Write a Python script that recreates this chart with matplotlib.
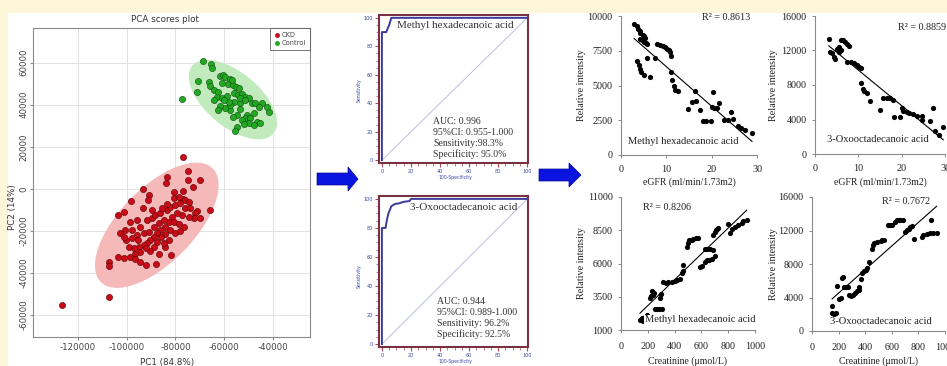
import numpy as np
import matplotlib
matplotlib.use('Agg')
import matplotlib.pyplot as plt
from matplotlib.patches import Polygon, Rectangle
from matplotlib.lines import Line2D
from matplotlib.ticker import MultipleLocator

W, H = 947, 366

# --- PCA scores ---
ckd_pc1 = [-76900, -75000, -74900, -70100, -83500, -83800, -72800, -80800, -77100, -93300,
           -90700, -91300, -98300, -93500, -101300, -103700, -65700, -69800, -76900, -71200,
           -95800, -98500, -100600, -97800, -94400, -91700, -89600, -88300, -86200, -83500,
           -82100, -80100, -78000, -76000, -73900, -71900, -72500, -74600, -77300, -79400,
           -81400, -82800, -84200, -86200, -87600, -89000, -90300, -91700, -93100, -95100,
           -97200, -99200, -100200, -97800, -95800, -93100, -91000, -89000, -86900, -84900,
           -80800, -78700, -76700, -78000, -80100, -82100, -84200, -85900, -87600, -88700,
           -90300, -92000, -94400, -96500, -98800, -101000, -103700, -96500, -94400, -92100,
           -87900, -86900, -81800, -84400, -107400, -107400, -107400, -126400, -102600, -101300,
           -95500, -80800, -78700, -76000, -83500, -85600, -89600, -74600, -82800, -84800]
ckd_pc2 = [15300, 8500, 4200, 4200, 5500, 2900, 700, -1300, -900, -200,
           -2900, -5300, -5800, -9300, -11000, -12400, -10100, -14000, -5000, -10400,
           -14800, -15600, -19600, -19600, -18000, -14800, -14000, -12400, -11600, -10100,
           -8500, -7700, -6900, -9300, -9300, -11600, -14000, -13200, -12400, -11600,
           -13200, -15600, -18000, -19600, -21200, -23100, -24300, -25600, -26700, -27500,
           -28300, -27500, -24300, -23500, -21900, -21200, -20400, -18000, -16400, -14800,
           -15600, -16700, -18300, -19900, -20800, -19600, -21500, -23100, -25100, -27500,
           -29400, -28300, -30200, -31000, -32200, -33000, -32600, -33500, -34600, -36200,
           -35700, -31000, -31500, -27800, -34600, -36500, -51300, -55200, -21200, -23100,
           -24300, -4500, -3700, -5300, -7200, -9300, -10100, -6100, -24300, -25600]
ctl_pc1 = [-68900, -65400, -65200, -70900, -66400, -66000, -61600, -60500, -59600, -57500,
           -60900, -58600, -56500, -55000, -53800, -64300, -62700, -71200, -63000, -60900,
           -58900, -56100, -54500, -52700, -51400, -50000, -48600, -47200, -44500, -42500,
           -41800, -45900, -47900, -50700, -51400, -52700, -54800, -56400, -57500, -59600,
           -61600, -62700, -56100, -53400, -53700, -49300, -46600, -45200, -50000, -52000,
           -54800, -55500, -77300, -57500, -64300, -47900, -53400, -51400, -58200, -60200,
           -56800]
ctl_pc2 = [60800, 59200, 57300, 51300, 51000, 48900, 53700, 54100, 53000, 52200,
           50200, 49900, 49400, 48600, 47800, 47000, 46200, 46200, 43800, 43000,
           44100, 45400, 44600, 45100, 43800, 43000, 40700, 41000, 41000, 39100,
           36700, 38800, 35900, 35100, 33500, 32700, 35100, 34300, 37500, 38300,
           39400, 37500, 41500, 40700, 37800, 33500, 31900, 31200, 31200, 30800,
           29600, 27700, 42700, 39900, 42200, 30400, 43000, 42200, 41500, 42200,
           51800]

# --- ROC curves ---
roc1_fpr = [0, 0, 3, 5, 6.5, 100]
roc1_tpr = [0, 90, 90, 95, 100, 100]
roc2_fpr = [0, 0, 2.5, 3.5, 4.5, 6.5, 9, 12, 15, 19, 20, 100]
roc2_tpr = [0, 80, 80, 86, 90, 95, 96.5, 97, 98, 98.5, 100, 100]
roc1_stats = ['AUC: 0.996', '95%CI: 0.955-1.000', 'Sensitivity:98.3%', 'Specificity: 95.0%']
roc2_stats = ['AUC: 0.944', '95%CI: 0.989-1.000', 'Sensitivity: 96.2%', 'Specificity: 92.5%']

# --- correlation scatter data ---
egfr1 = [2.9, 3.5, 3.8, 4.2, 4.3, 4.8, 5.1, 5.4, 4.1, 4.6, 5.1, 5.5, 5.8, 3.6, 3.9, 4.2, 4.4, 5.1,
         6.4, 7.4, 5.7, 8.0, 8.6, 9.2, 9.7, 10.1, 10.5, 10.8, 11.1, 11.0, 11.2, 11.6, 11.9, 12.5,
         16.4, 14.7, 15.6, 16.6, 17.5, 18.1, 18.8, 19.9, 20.3, 20.0, 20.6, 21.1, 21.7, 22.8, 23.5,
         24.2, 24.7, 25.9, 26.5, 27.4, 28.9]
mha_egfr = [9450, 9260, 9090, 8920, 8780, 8640, 8540, 8440, 8370, 8250, 8130, 8060, 8010, 6750,
            6460, 6220, 5980, 5740, 5620, 7010, 7010, 7970, 7940, 7870, 7770, 7650, 7530, 7390,
            7150, 5980, 5380, 4950, 4660, 4620, 4620, 3280, 3830, 3900, 3230, 2460, 2460, 2460,
            4540, 3420, 3350, 3350, 3710, 2510, 2510, 3110, 2560, 2080, 1910, 1790, 1600]
egfr2 = [3.2, 3.4, 4.0, 4.4, 4.7, 5.1, 5.5, 5.9, 5.5, 6.0, 6.5, 7.0, 7.4, 7.8, 7.4, 8.2, 8.9, 9.6,
         10.1, 10.5, 10.7, 11.0, 11.4, 12.0, 12.6, 15.1, 15.8, 16.6, 17.4, 18.0, 18.3, 19.7, 20.0,
         20.4, 21.2, 21.8, 22.6, 23.5, 24.6, 24.6, 26.5, 27.2, 27.7, 28.5, 29.6]
oxo_egfr = [13300, 11850, 11730, 11270, 10960, 12230, 12420, 12040, 11850, 13270, 13190, 13000,
            12810, 12500, 10690, 10620, 10500, 10310, 10120, 9920, 8270, 7500, 7350, 7040, 6190,
            5120, 6460, 6460, 6460, 6270, 4270, 4270, 5310, 5040, 4920, 4730, 4620, 4350, 4350,
            3960, 3770, 5310, 2620, 2230, 3080]
creat1 = [142, 154, 162, 179, 192, 197, 216, 224, 236, 246, 229, 254, 271, 286, 304, 291, 296, 316,
          336, 353, 378, 403, 420, 440, 453, 460, 465, 490, 498, 510, 527, 540, 560, 577, 627, 644,
          664, 684, 590, 602, 627, 639, 659, 677, 702, 689, 702, 709, 719, 726, 801, 814, 826, 851,
          876, 901, 913, 938]
mha_creat = [1750, 1875, 1700, 2000, 2050, 2125, 3375, 3550, 3625, 3750, 3950, 2550, 2550, 2550,
             2550, 3375, 3700, 4625, 4550, 4625, 4625, 4700, 4750, 4800, 5250, 5450, 5875, 7250,
             7550, 7750, 7800, 7875, 7925, 7950, 7125, 7075, 7125, 7050, 5700, 5800, 6125, 6250,
             6300, 6375, 6550, 8125, 8375, 8550, 8625, 8700, 9000, 8300, 8625, 8750, 8875, 9050,
             9200, 9300]
creat2 = [151, 151, 169, 181, 186, 201, 218, 226, 236, 243, 255, 268, 280, 293, 305, 325, 335, 350,
          355, 367, 379, 392, 404, 417, 429, 454, 459, 466, 491, 516, 528, 541, 573, 590, 603, 627,
          640, 652, 665, 682, 702, 714, 727, 739, 751, 764, 826, 838, 863, 888, 895, 913, 937]
oxo_creat = [2980, 2100, 2020, 2180, 5360, 3770, 3890, 6270, 6470, 5200, 5280, 5200, 4290, 4170,
             4290, 4490, 4760, 4880, 5200, 6190, 6870, 7190, 7340, 7580, 8260, 9850, 10240, 10520,
             10640, 10720, 10840, 10840, 12620, 12700, 12620, 13020, 13220, 13300, 13300, 13220,
             11830, 12030, 12230, 12430, 12510, 11040, 11240, 11430, 11630, 11710, 13300, 11710,
             11750]


def box(l, t, r, b):
    return [l / W, 1 - b / H, (r - l) / W, (b - t) / H]


def ftext(x, y, s, **kw):
    fig.text(x / W, 1 - y / H, s, **kw)


def conf_ellipse(x, y, q=5.991):
    x = np.asarray(x, float)
    y = np.asarray(y, float)
    vals, vecs = np.linalg.eigh(np.cov(x, y))
    t = np.linspace(0, 2 * np.pi, 200)
    pts = vecs @ (np.sqrt(vals * q)[:, None] * np.vstack([np.cos(t), np.sin(t)]))
    return x.mean() + pts[0], y.mean() + pts[1]


fig = plt.figure(figsize=(W / 100, H / 100), dpi=100, facecolor='#fdf6d8')

# white page area and the two arrows
bg = fig.add_axes([0, 0, 1, 1], zorder=-5)
bg.set_xlim(0, W)
bg.set_ylim(H, 0)
bg.axis('off')
bg.add_patch(Rectangle((8, 13), W - 8, H - 13, facecolor='white', edgecolor='none'))
for x0, yc, body, head in [(317, 179, 31, 10), (539, 175, 30, 12)]:
    bg.add_patch(Polygon([(x0, yc - 6), (x0 + body, yc - 6), (x0 + body, yc - 12),
                          (x0 + body + head, yc), (x0 + body, yc + 12), (x0 + body, yc + 6),
                          (x0, yc + 6)], closed=True, facecolor='#0a14e0', edgecolor='#0a0a90',
                         lw=0.5))

# ---------------- PCA scores plot ----------------
ax = fig.add_axes(box(33, 28, 310, 337))
ax.set_xlim(-138460, -24820)
ax.set_ylim(-70460, 76500)
ax.set_xticks([-120000, -100000, -80000, -60000, -40000])
ax.set_yticks([-60000, -40000, -20000, 0, 20000, 40000, 60000])
ax.grid(True, color='#e2e2e2', lw=0.7)
ax.set_axisbelow(True)
ex, ey = conf_ellipse(ckd_pc1, ckd_pc2)
ax.fill(ex, ey, color='#f6b9b9', lw=0, zorder=1)
ex, ey = conf_ellipse(ctl_pc1, ctl_pc2)
ax.fill(ex, ey, color='#c2ebbd', lw=0, zorder=1)
ax.scatter(ckd_pc1, ckd_pc2, s=20, c='#c80a18', edgecolors='#5a0000', linewidths=0.4, zorder=3)
ax.scatter(ctl_pc1, ctl_pc2, s=20, c='#22a822', edgecolors='#0f4a0f', linewidths=0.4, zorder=3)
for s in ax.spines.values():
    s.set_color('#8a8a8a')
    s.set_linewidth(0.8)
ax.tick_params(colors='#8a8a8a', labelcolor='#444444', labelsize=6.2, length=2, pad=2)
ax.tick_params(axis='y', labelrotation=90, pad=1)
for lab in ax.get_yticklabels():
    lab.set_va('center')
ax.set_xticklabels([str(v) for v in ax.get_xticks().astype(int)])
ax.set_yticklabels([str(v) for v in ax.get_yticks().astype(int)])
handles = [Line2D([], [], marker='o', ls='', ms=2.5, color='#c80a18', label='CKD'),
           Line2D([], [], marker='o', ls='', ms=2.5, color='#22a822', label='Control')]
leg = ax.legend(handles=handles, loc='upper right', fontsize=4.8, frameon=True, fancybox=False,
                borderaxespad=0, handlelength=0.8, handletextpad=0.3, borderpad=0.6,
                labelspacing=0.35, labelcolor='#444444')
leg.get_frame().set_edgecolor('#555555')
leg.get_frame().set_linewidth(0.7)
ftext(165, 19, 'PCA scores plot', fontsize=6.3, color='#333333', ha='center', va='center')
ftext(167, 362, 'PC1 (84.8%)', fontsize=6.3, color='#333333', ha='center', va='center')
ftext(13, 207, 'PC2 (14%)', fontsize=6.3, color='#333333', ha='center', va='center',
      rotation=90)


# ---------------- ROC curves ----------------
def roc_panel(rect, fpr, tpr, name, name_xy, stats, stats_xy, ylab_xy, xlab_xy):
    a = fig.add_axes(box(*rect))
    a.plot([0, 100], [0, 100], color='#b9c0dc', lw=0.7)
    a.plot(fpr, tpr, color='#3b3b9c', lw=1.4)
    a.set_xlim(-2, 100.5)
    a.set_ylim(-2, 102)
    a.xaxis.set_major_locator(MultipleLocator(20))
    a.yaxis.set_major_locator(MultipleLocator(20))
    a.xaxis.set_minor_locator(MultipleLocator(5))
    a.yaxis.set_minor_locator(MultipleLocator(5))
    for s in a.spines.values():
        s.set_color('#7a3242')
        s.set_linewidth(1.5)
    a.tick_params(which='major', length=3, width=0.8, color='#b04a5a', labelsize=3.5,
                  labelcolor='#3848a8', pad=1.5, direction='out')
    a.tick_params(which='minor', length=2, width=0.6, color='#c06070', direction='out')
    ftext(name_xy[0], name_xy[1], name, fontsize=8, family='Liberation Serif',
          color='#333333', va='center')
    for i, line in enumerate(stats):
        ftext(stats_xy[0], stats_xy[1] + i * 10.8, line, fontsize=7, family='Liberation Serif',
              color='#333333', va='center')
    ftext(ylab_xy[0], ylab_xy[1], 'Sensitivity', fontsize=3.3, color='#3848a8', rotation=90,
          ha='center', va='center')
    ftext(xlab_xy[0], xlab_xy[1], '100-Specificity', fontsize=3.3, color='#3848a8',
          ha='center', va='center')


roc_panel((379, 15, 528, 163), roc1_fpr, roc1_tpr, 'Methyl hexadecanoic acid', (397, 25),
          roc1_stats, (433, 122), (359, 90), (455, 178))
roc_panel((379, 196, 528, 347), roc2_fpr, roc2_tpr, '3-Oxooctadecanoic acid', (410, 208),
          roc2_stats, (437, 302), (359, 276), (455, 362))


# ---------------- correlation scatter plots ----------------
def scatter_panel(rect, x, y, xlim, xticks, ylim, yticks, r2, r2_xy, name, name_xy,
                  xlabel, xlab_y, ylab_x, xpad):
    a = fig.add_axes(box(*rect))
    a.scatter(x, y, s=14, c='black', lw=0, zorder=3)
    k, b = np.polyfit(x, y, 1)
    xs = np.array([min(x), max(x)])
    a.plot(xs, k * xs + b, color='black', lw=0.8, zorder=2)
    a.set_xlim(*xlim)
    a.set_ylim(*ylim)
    a.set_xticks(xticks)
    a.set_yticks(yticks)
    a.set_xticklabels([str(v) for v in xticks])
    a.set_yticklabels([str(v) for v in yticks])
    for side in ('top', 'right'):
        a.spines[side].set_visible(False)
    for side in ('left', 'bottom'):
        a.spines[side].set_color('#8a8a8a')
        a.spines[side].set_linewidth(0.8)
    a.tick_params(length=2.5, width=0.7, color='#8a8a8a', labelsize=7.3, labelcolor='#222222')
    a.tick_params(axis='x', pad=xpad)
    a.tick_params(axis='y', pad=3.5)
    for lab in a.get_xticklabels() + a.get_yticklabels():
        lab.set_family('Liberation Serif')
    ftext(r2_xy[0], r2_xy[1], r2, fontsize=7.3, family='Liberation Serif', color='#222222',
          va='center')
    ftext(name_xy[0], name_xy[1], name, fontsize=7.6, family='Liberation Serif',
          color='#222222', va='center', zorder=5,
          bbox=dict(facecolor='white', edgecolor='none', pad=0.5))
    ftext((rect[0] + rect[2]) / 2, xlab_y, xlabel, fontsize=7, family='Liberation Serif',
          color='#222222', ha='center', va='center')
    ftext(ylab_x, (rect[1] + rect[3]) / 2, 'Relative intensity', fontsize=7.3,
          family='Liberation Serif', color='#222222', ha='center', va='center', rotation=90)


scatter_panel((621, 16, 757, 155), egfr1, mha_egfr, (0, 30), [0, 10, 20, 30], (0, 10000),
              [0, 2500, 5000, 7500, 10000], 'R² = 0.8613', (702, 17),
              'Methyl hexadecanoic acid', (628, 142), 'eGFR (ml/min/1.73m2)', 182, 582, 5)
scatter_panel((815, 16, 945, 154), egfr2, oxo_egfr, (0, 30), [0, 10, 20, 30], (0, 16000),
              [0, 4000, 8000, 12000, 16000], 'R² = 0.8859', (898, 28),
              '3-Oxooctadecanoic acid', (827, 139), 'eGFR (ml/min/1.73m2)', 182, 773, 5)
scatter_panel((621, 197, 755, 330), creat1, mha_creat, (0, 1000), [0, 200, 400, 600, 800, 1000],
              (1000, 11000), [1000, 3500, 6000, 8500, 11000], 'R² = 0.8206', (643, 207),
              'Methyl hexadecanoic acid', (645, 320), 'Creatinine (μmol/L)', 361, 582, 6)
scatter_panel((812, 197, 945, 331), creat2, oxo_creat, (0, 1000), [0, 200, 400, 600, 800, 1000],
              (0, 16000), [0, 4000, 8000, 12000, 16000], 'R² = 0.7672', (882, 202),
              '3-Oxooctadecanoic acid', (830, 322), 'Creatinine (μmol/L)', 361, 773, 6)

fig.savefig('out.png', dpi=100, facecolor=fig.get_facecolor())
